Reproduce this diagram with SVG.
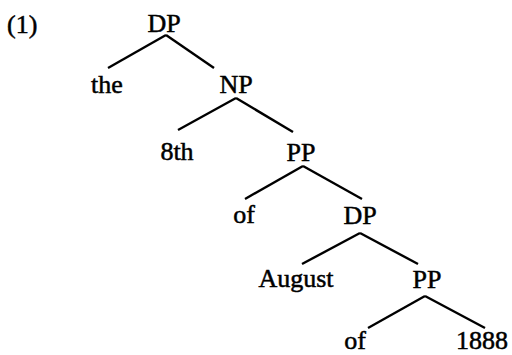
<svg xmlns="http://www.w3.org/2000/svg" width="512" height="355" viewBox="0 0 512 355">
<style>
text{font-family:"Liberation Serif","Times New Roman",serif;font-size:26px;fill:#000;stroke:#000;stroke-width:0.5;text-anchor:middle}
.e{stroke:#000;stroke-width:2.4;fill:none;stroke-linecap:butt}
</style>
<rect width="512" height="355" fill="#fff"/>
<text x="7" y="33" style="text-anchor:start">(1)</text>
<g id="connectors">
<line class="e" x1="166" y1="35" x2="108" y2="68"/>
<line class="e" x1="166" y1="35" x2="214" y2="68"/>
<line class="e" x1="236" y1="98" x2="178" y2="130"/>
<line class="e" x1="236" y1="98" x2="293" y2="132"/>
<line class="e" x1="303" y1="166" x2="245" y2="199"/>
<line class="e" x1="303" y1="166" x2="362" y2="199"/>
<line class="e" x1="360" y1="233" x2="302" y2="264"/>
<line class="e" x1="360" y1="233" x2="418" y2="264"/>
<line class="e" x1="425" y1="296" x2="368" y2="328"/>
<line class="e" x1="425" y1="296" x2="485" y2="328"/>
</g>
<g id="dp1"><text x="164" y="32">DP</text></g>
<g id="the"><text x="107" y="93">the</text></g>
<g id="np"><text x="236" y="93">NP</text></g>
<g id="eighth"><text x="177" y="160">8th</text></g>
<g id="pp1"><text x="301" y="161">PP</text></g>
<g id="of1"><text x="244" y="223">of</text></g>
<g id="dp2"><text x="360" y="224">DP</text></g>
<g id="august"><text x="296" y="287">August</text></g>
<g id="pp2"><text x="427" y="288">PP</text></g>
<g id="of2"><text x="355" y="349">of</text></g>
<g id="y1888"><text x="482" y="349">1888</text></g>
</svg>
